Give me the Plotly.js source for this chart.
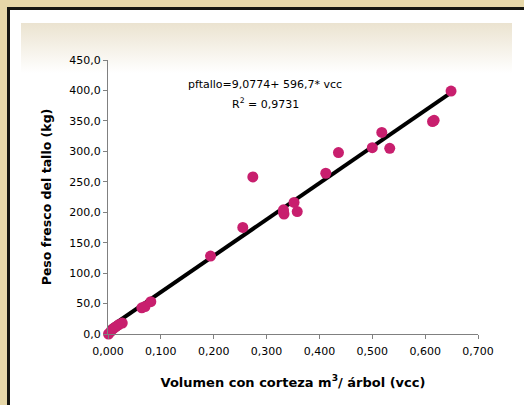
<!DOCTYPE html>
<html>
<head>
<meta charset="utf-8">
<script src="https://cdn.plot.ly/plotly-3.0.1.min.js"></script>
<style>
html,body{margin:0;padding:0;width:524px;height:405px;overflow:hidden;background:#e6d7a8;}
#frame{position:absolute;left:7px;top:7px;width:540px;height:420px;background:#ffffff;border-left:3px solid #151510;border-top:3px solid #151510;}
#band{position:absolute;left:21px;top:23px;width:491px;height:50px;background:linear-gradient(#ebe3d0,#ffffff);}
#chart{position:absolute;left:0;top:0;width:524px;height:405px;}
</style>
</head>
<body>
<div id="frame"></div>
<div id="band"></div>
<div id="chart"></div>
<script>
// Observed data: volumen con corteza (m3/árbol) vs peso fresco del tallo (kg)
const vcc = [0.001, 0.005, 0.010, 0.015, 0.020, 0.027, 0.064, 0.070, 0.081, 0.194, 0.255, 0.274, 0.332, 0.333, 0.332, 0.352, 0.358, 0.412, 0.436, 0.500, 0.518, 0.533, 0.614, 0.617, 0.649];
const pftallo = [0, 4, 9, 12, 15, 18, 43, 45, 53, 128, 175, 258, 204, 197, 200, 216, 201, 264, 298, 306, 331, 305, 349, 351, 399];

// Regression coefficients
const intercept = 9.0774;
const slope = 596.7;
const r2 = 0.9731;

const xTicks = [0, 0.1, 0.2, 0.3, 0.4, 0.5, 0.6, 0.7];
const yTicks = [0, 50, 100, 150, 200, 250, 300, 350, 400, 450];

const xMin = Math.min(...vcc), xMax = Math.max(...vcc);
const fitX = [xMin, xMax];
const fitY = fitX.map(v => intercept + slope * v);

const font = '"DejaVu Sans", sans-serif';

const traces = [
  {x: fitX, y: fitY, mode: 'lines', type: 'scatter', line: {color: '#000000', width: 4}, hoverinfo: 'skip', showlegend: false, cliponaxis: false},
  {x: vcc, y: pftallo, mode: 'markers', type: 'scatter', marker: {color: '#c81f6e', size: 11}, showlegend: false, cliponaxis: false}
];

const fmt = (v, d) => v.toFixed(d).replace('.', ',');

const layout = {
  width: 524, height: 405,
  margin: {l: 108, r: 46, t: 60, b: 71},
  paper_bgcolor: 'rgba(0,0,0,0)',
  plot_bgcolor: 'rgba(0,0,0,0)',
  font: {family: font, size: 11, color: '#000000'},
  separators: ', ',
  showlegend: false,
  xaxis: {
    range: [0, 0.7], showgrid: false, zeroline: false,
    showline: true, linecolor: '#808080', linewidth: 1,
    ticks: 'outside', ticklen: 4, tickcolor: '#808080',
    ticklabelstandoff: 3,
    tickvals: xTicks, ticktext: xTicks.map(v => fmt(v, 3)),
    tickfont: {family: font, size: 11},
    title: {text: 'Volumen con corteza m<sup>3</sup>/ árbol (vcc)', font: {family: font, size: 13, weight: 'bold'}, standoff: 20}
  },
  yaxis: {
    range: [0, 450], showgrid: false, zeroline: false,
    showline: true, linecolor: '#808080', linewidth: 1,
    ticks: 'outside', ticklen: 4, tickcolor: '#808080',
    tickvals: yTicks, ticktext: yTicks.map(v => fmt(v, 1)),
    tickfont: {family: font, size: 11},
    title: {text: 'Peso fresco del tallo (kg)', font: {family: font, size: 12.5, weight: 'bold'}, standoff: 14}
  },
  annotations: [
    {xref: 'paper', yref: 'paper', x: 0.425, y: 0.91, xanchor: 'center', yanchor: 'middle', showarrow: false,
     text: 'pftallo=' + fmt(intercept, 4) + '+ ' + fmt(slope, 1) + '* vcc', font: {family: font, size: 11}},
    {xref: 'paper', yref: 'paper', x: 0.425, y: 0.843, xanchor: 'center', yanchor: 'middle', showarrow: false,
     text: 'R<sup>2</sup> = ' + fmt(r2, 4), font: {family: font, size: 11}}
  ]
};

Plotly.newPlot('chart', traces, layout, {displayModeBar: false, staticPlot: true});
</script>
</body>
</html>
